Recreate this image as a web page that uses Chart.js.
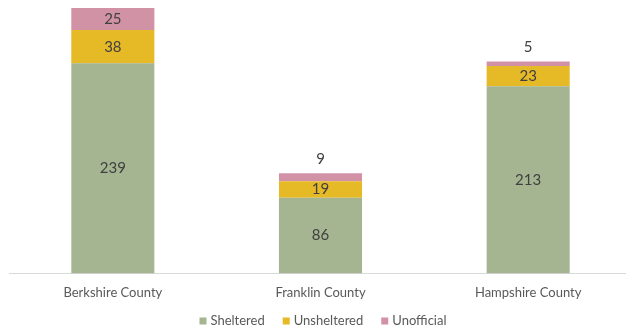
<!DOCTYPE html>
<html>
<head>
<meta charset="utf-8">
<script src="https://cdn.jsdelivr.net/npm/chart.js@4.4.1/dist/chart.umd.min.js"></script>
<style>
  html, body { margin: 0; padding: 0; background: #ffffff; overflow: hidden; width: 626px; height: 331px; }
  #wrap { position: absolute; left: 9px; top: 0; width: 628px; height: 331px; }
</style>
</head>
<body>
<div id="wrap"><canvas id="c" width="628" height="331"></canvas></div>
<script>
// Counties and counts per category
const counties = ['Berkshire County', 'Franklin County', 'Hampshire County'];
const sheltered = [239, 86, 213];
const unsheltered = [38, 19, 23];
const unofficial = [25, 9, 5];

const FONT = 'Lato, "Open Sans", sans-serif';

// Writes each segment's value: centred inside when it fits, otherwise just above the stack
const segmentLabels = {
  id: 'segmentLabels',
  afterDatasetsDraw(chart) {
    const ctx = chart.ctx;
    ctx.save();
    ctx.font = '15px ' + FONT;
    ctx.fillStyle = '#404040';
    ctx.textAlign = 'center';
    ctx.textBaseline = 'middle';
    chart.data.datasets.forEach((ds, di) => {
      const meta = chart.getDatasetMeta(di);
      meta.data.forEach((bar, i) => {
        const top = Math.min(bar.y, bar.base);
        const h = Math.abs(bar.base - bar.y);
        const y = h >= 14 ? top + h / 2 : top - 14;
        ctx.fillText(String(ds.data[i]), bar.x, y);
      });
    });
    ctx.restore();
  }
};

// Horizontal legend row centred under the plot
const bottomLegend = {
  id: 'bottomLegend',
  afterDraw(chart) {
    const ctx = chart.ctx;
    const box = 7, gapText = 4, gapItem = 18;
    ctx.save();
    ctx.font = '13px ' + FONT;
    ctx.textBaseline = 'middle';
    ctx.textAlign = 'left';
    const items = chart.data.datasets.map(ds => ({
      text: ds.label, color: ds.backgroundColor, w: ctx.measureText(ds.label).width
    }));
    const total = items.reduce((s, it) => s + box + gapText + it.w, 0) + gapItem * (items.length - 1);
    let x = chart.width / 2 - total / 2;
    const y = 320.5;
    items.forEach(it => {
      ctx.fillStyle = it.color;
      ctx.fillRect(x, y - box / 2 + 0.5, box, box);
      x += box + gapText;
      ctx.fillStyle = '#595959';
      ctx.fillText(it.text, x, y);
      x += it.w + gapItem;
    });
    ctx.restore();
  }
};

new Chart(document.getElementById('c'), {
  type: 'bar',
  data: {
    labels: counties,
    datasets: [
      { label: 'Sheltered', data: sheltered, backgroundColor: '#A5B592' },
      { label: 'Unsheltered', data: unsheltered, backgroundColor: '#E6B927' },
      { label: 'Unofficial', data: unofficial, backgroundColor: '#D192A6' }
    ]
  },
  options: {
    responsive: false,
    animation: false,
    events: [],
    categoryPercentage: 1,
    barPercentage: 0.4,
    layout: { padding: { top: 8, right: 5, left: 0, bottom: 18 } },
    scales: {
      x: {
        stacked: true,
        grid: { display: false, drawTicks: false },
        border: { display: true, color: '#D9D9D9', width: 1 },
        ticks: { color: '#595959', font: { family: FONT, size: 13 }, padding: 12 }
      },
      y: {
        stacked: true,
        display: false,
        min: 0,
        max: 302
      }
    },
    plugins: {
      legend: { display: false },
      tooltip: { enabled: false }
    }
  },
  plugins: [segmentLabels, bottomLegend]
});
</script>
</body>
</html>
